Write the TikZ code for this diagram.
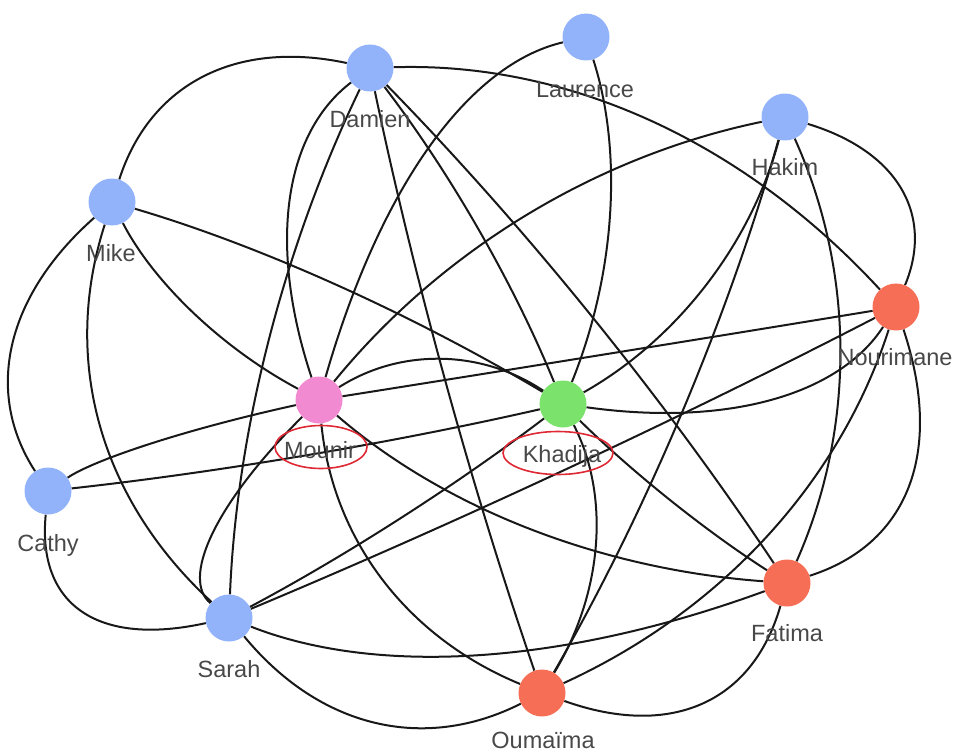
\documentclass[tikz,border=0pt]{standalone}
\usepackage{fontspec}
\setmainfont{Liberation Sans}
\usetikzlibrary{shapes.geometric,backgrounds,calc}
\definecolor{nblue}{RGB}{146,178,250}
\definecolor{npink}{RGB}{242,138,210}
\definecolor{ngreen}{RGB}{123,227,107}
\definecolor{nred}{RGB}{245,110,85}
\definecolor{ecol}{RGB}{24,24,24}
\definecolor{lcol}{RGB}{72,72,72}
\definecolor{ellred}{RGB}{222,40,52}
\newcommand\qedge[3]{%
  \draw[edge] let \p1=(#1.center), \p2=(#2.center), \p3=#3 in
    (#1) .. controls ({(4*\x3-\x2)/3},{(4*\y3-\y2)/3}) and ({(4*\x3-\x1)/3},{(4*\y3-\y1)/3}) .. (#2);%
}
\tikzset{
  vnode/.style={circle, inner sep=0pt, minimum size=47pt, draw=none},
  lbl/.style={text=lcol, font=\fontsize{23.5}{28}\selectfont, anchor=base, inner sep=0pt},
  hl/.style={ellipse, draw=ellred, line width=1.6pt, inner sep=0pt},
  edge/.style={draw=ecol, line width=2pt},
}
\begin{document}
\begin{tikzpicture}[x=1pt,y=-1pt]
\useasboundingbox (0,0) rectangle (956,752);
% nodes
\node[vnode, fill=nblue]  (Mi) at (112,202) {};
\node[vnode, fill=nblue]  (Da) at (370,68) {};
\node[vnode, fill=nblue]  (La) at (586,37) {};
\node[vnode, fill=nblue]  (Ha) at (785,117) {};
\node[vnode, fill=nred]   (No) at (896,307) {};
\node[vnode, fill=npink]  (Mo) at (319,400) {};
\node[vnode, fill=ngreen] (Kh) at (563,404) {};
\node[vnode, fill=nblue]  (Ca) at (48,491) {};
\node[vnode, fill=nred]   (Fa) at (787,583) {};
\node[vnode, fill=nblue]  (Sa) at (229,618) {};
\node[vnode, fill=nred]   (Ou) at (542,693) {};
% labels
\node[lbl] (Mi-l) at (111,261) {Mike};
\node[lbl] (Da-l) at (370,127) {Damien};
\node[lbl] (La-l) at (585,97) {Laurence};
\node[lbl] (Ha-l) at (785,175) {Hakim};
\node[lbl] (No-l) at (895,365) {Nourimane};
\node[lbl] (Mo-l) at (320,458) {Mounir};
\node[lbl] (Kh-l) at (562,462) {Khadija};
\node[lbl] (Ca-l) at (48,551) {Cathy};
\node[lbl] (Fa-l) at (787,641) {Fatima};
\node[lbl] (Sa-l) at (229,677) {Sarah};
\node[lbl] (Ou-l) at (543,748) {Oumaïma};
\node[hl, minimum width=92pt, minimum height=43pt] (Mo-e) at (321,447) {};
\node[hl, minimum width=110pt, minimum height=43pt] (Kh-e) at (558,453) {};
% edges
\begin{pgfonlayer}{background}
\qedge{Mi}{Da}{(205,80)}
\qedge{Mi}{Kh}{(335,285)}
\qedge{Mi}{Mo}{(195,312)}
\qedge{Mi}{Sa}{(103,425)}
\qedge{Mi}{Ca}{(16,345)}
\qedge{Da}{No}{(650,123)}
\qedge{Da}{Mo}{(293,200)}
\qedge{Da}{Sa}{(270,340)}
\qedge{Da}{Ou}{(446,382)}
\qedge{Da}{Kh}{(478,230)}
\qedge{Da}{Fa}{(590,315)}
\qedge{La}{Mo}{(432,148)}
\qedge{La}{Kh}{(608,215)}
\qedge{Ha}{Mo}{(527,217)}
\qedge{Ha}{Kh}{(704,284)}
\qedge{Ha}{Ou}{(681,413)}
\qedge{Ha}{Fa}{(838,350)}
\qedge{Ha}{No}{(897,190)}
\qedge{No}{Mo}{(607,354)}
\qedge{No}{Kh}{(770,397)}
\qedge{No}{Sa}{(566,469)}
\qedge{No}{Ou}{(765,535)}
\qedge{No}{Fa}{(905,485)}
\qedge{Mo}{Kh}{(441,362)}
\qedge{Mo}{Fa}{(530,527)}
\qedge{Mo}{Ou}{(385,578)}
\qedge{Mo}{Sa}{(216,535)}
\qedge{Mo}{Ca}{(150,445)}
\qedge{Kh}{Fa}{(671,500)}
\qedge{Kh}{Ou}{(593,545)}
\qedge{Kh}{Sa}{(400,518)}
\qedge{Kh}{Ca}{(306,455)}
\qedge{Sa}{Fa}{(480,653)}
\qedge{Sa}{Ou}{(375,719)}
\qedge{Sa}{Ca}{(85,608)}
\qedge{Fa}{Ou}{(700,700)}
\end{pgfonlayer}
\end{tikzpicture}
\end{document}
